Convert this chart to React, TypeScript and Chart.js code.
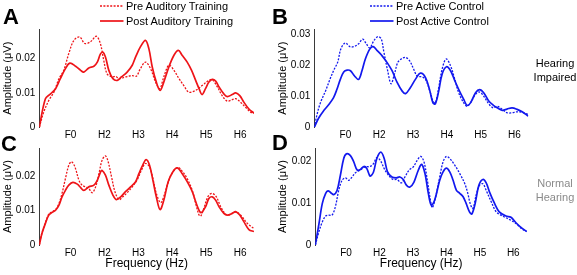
import React, { useEffect, useRef } from "react";
import { Chart, registerables } from "chart.js";

Chart.register(...registerables);

type Pt = [number, number];

// ---- tick labels ----
const xTickValues = [100, 200, 300, 400, 500, 600];
const xTickLabels = ["F0", "H2", "H3", "H4", "H5", "H6"];
const yTicksA = [0, 0.01, 0.02];
const yTicksB = [0, 0.01, 0.02, 0.03];
const yTicksC = [0, 0.01, 0.02];
const yTicksD = [0, 0.01, 0.02];
const yTickText: Record<string, string> = { "0": "0", "0.01": "0.01", "0.02": "0.02", "0.03": "0.03" };

// ---- series (frequency Hz, amplitude µV) ----
const preAuditoryHI: Pt[] = [[8,0],[21,0.0044],[36,0.0078],[51,0.0102],[66,0.0141],[80,0.0165],[95,0.0214],[110,0.0252],[127,0.0262],[142,0.0243],[159,0.0248],[176,0.0264],[188,0.0243],[198,0.0194],[208,0.0155],[223,0.0146],[233,0.0148],[243,0.0141],[262,0.0146],[282,0.015],[294,0.0148],[306,0.017],[321,0.0189],[336,0.017],[351,0.0131],[363,0.0112],[375,0.0146],[390,0.018],[405,0.0165],[420,0.0141],[434,0.0121],[449,0.0102],[469,0.0107],[488,0.0121],[508,0.0136],[518,0.0138],[533,0.0117],[547,0.0092],[562,0.0076],[577,0.008],[587,0.0083],[601,0.0073],[616,0.0058],[631,0.0044],[641,0.0041]];
const postAuditoryHI: Pt[] = [[8,0],[26,0.0083],[41,0.0097],[56,0.0112],[70,0.0141],[85,0.017],[98,0.0186],[115,0.0177],[130,0.0165],[139,0.016],[154,0.0172],[169,0.0177],[179,0.0189],[188,0.0212],[195,0.0218],[203,0.0204],[213,0.0165],[225,0.0141],[238,0.0136],[250,0.0146],[267,0.016],[282,0.018],[292,0.0204],[306,0.0233],[321,0.0252],[331,0.0228],[341,0.0175],[353,0.0131],[364,0.0107],[375,0.0131],[390,0.0175],[405,0.0209],[418,0.0223],[429,0.0209],[444,0.0189],[457,0.0165],[469,0.0136],[479,0.0112],[488,0.0095],[498,0.0112],[508,0.0131],[518,0.0139],[528,0.0134],[538,0.0117],[552,0.0097],[562,0.0089],[577,0.0095],[587,0.01],[599,0.0092],[611,0.0073],[626,0.0053],[641,0.0041]];

const preActiveHI: Pt[] = [[8,0],[16,0.0041],[26,0.0079],[41,0.0117],[56,0.016],[67,0.0188],[77,0.021],[87,0.0255],[100,0.0273],[113,0.0261],[125,0.0261],[139,0.027],[151,0.0285],[162,0.027],[172,0.0257],[184,0.028],[196,0.0293],[206,0.0286],[213,0.0248],[225,0.0183],[235,0.0141],[245,0.0172],[255,0.021],[268,0.0223],[278,0.0226],[290,0.0215],[302,0.0188],[312,0.0166],[327,0.0163],[337,0.0155],[350,0.0117],[359,0.0085],[366,0.0079],[376,0.0128],[386,0.0188],[398,0.0221],[411,0.0199],[422,0.0161],[435,0.0112],[450,0.0079],[460,0.0068],[470,0.0079],[485,0.0107],[497,0.0114],[509,0.0101],[524,0.0076],[537,0.0063],[549,0.0068],[564,0.0058],[578,0.0047],[593,0.0047],[608,0.005],[628,0.0047],[641,0.0041]];
const postActiveHI: Pt[] = [[8,0],[21,0.003],[36,0.0054],[51,0.0074],[65,0.0096],[75,0.0123],[85,0.0155],[95,0.0179],[105,0.0185],[115,0.0183],[127,0.0166],[139,0.0155],[149,0.0183],[159,0.0221],[172,0.0253],[182,0.0261],[194,0.0248],[208,0.0232],[223,0.021],[238,0.0183],[253,0.0145],[268,0.0117],[278,0.0109],[292,0.0128],[307,0.0155],[322,0.0175],[337,0.0161],[350,0.0117],[359,0.0079],[366,0.0076],[376,0.0117],[386,0.0172],[399,0.0196],[411,0.0183],[422,0.0155],[435,0.0123],[450,0.009],[460,0.0071],[470,0.0079],[485,0.0112],[497,0.0122],[509,0.0112],[524,0.0085],[537,0.0072],[549,0.0063],[564,0.0055],[578,0.0059],[593,0.0063],[608,0.0058],[623,0.005],[641,0.0036]];

const preAuditoryNH: Pt[] = [[8,0],[16,0.0036],[26,0.0065],[36,0.009],[46,0.0097],[56,0.0103],[66,0.0121],[75,0.015],[85,0.0193],[95,0.0232],[103,0.0242],[113,0.0227],[125,0.0188],[134,0.0174],[144,0.0169],[154,0.0164],[164,0.0152],[174,0.0169],[184,0.0208],[193,0.0246],[203,0.0259],[211,0.0242],[221,0.0198],[231,0.0155],[243,0.0132],[254,0.014],[267,0.0152],[282,0.0169],[297,0.019],[309,0.0217],[321,0.0237],[333,0.0227],[343,0.0193],[353,0.015],[366,0.0123],[378,0.015],[390,0.0188],[405,0.0217],[418,0.0225],[429,0.0215],[444,0.0193],[459,0.0159],[469,0.0121],[479,0.0087],[484,0.0084],[493,0.0106],[506,0.0142],[518,0.015],[530,0.014],[543,0.0111],[557,0.009],[567,0.0087],[582,0.0095],[592,0.0095],[606,0.0082],[621,0.0063],[641,0.0048]];
const postAuditoryNH: Pt[] = [[8,0],[16,0.0034],[26,0.0063],[36,0.0087],[46,0.0095],[56,0.0101],[66,0.0116],[75,0.014],[85,0.0159],[95,0.0174],[107,0.0182],[120,0.0177],[130,0.0167],[139,0.0159],[154,0.0169],[169,0.0174],[179,0.0188],[189,0.0213],[193,0.0217],[203,0.0203],[213,0.0174],[225,0.0145],[235,0.0132],[248,0.014],[262,0.0155],[277,0.0169],[292,0.0184],[302,0.0208],[313,0.0232],[323,0.0248],[333,0.0232],[343,0.0188],[353,0.014],[364,0.0103],[375,0.013],[388,0.0184],[402,0.0213],[415,0.0224],[429,0.0208],[444,0.0184],[459,0.0155],[469,0.0126],[479,0.0101],[485,0.0094],[498,0.0111],[508,0.0135],[518,0.014],[528,0.013],[538,0.0111],[552,0.0092],[562,0.0087],[577,0.0092],[587,0.0097],[599,0.0087],[611,0.0068],[626,0.0045],[641,0.0039]];

const preActiveNH: Pt[] = [[8,0],[19,0.0032],[29,0.0055],[39,0.0069],[49,0.0071],[58,0.0071],[68,0.0091],[78,0.013],[88,0.0154],[98,0.016],[108,0.0154],[118,0.0162],[128,0.0172],[143,0.0179],[157,0.0186],[172,0.0187],[182,0.0194],[192,0.0208],[202,0.0202],[214,0.0182],[227,0.0166],[240,0.0156],[252,0.0156],[266,0.0148],[276,0.0162],[289,0.0179],[301,0.0186],[313,0.0202],[323,0.0211],[333,0.0198],[343,0.0154],[353,0.0103],[358,0.0089],[368,0.0115],[380,0.0162],[390,0.0198],[400,0.0211],[410,0.0206],[425,0.019],[440,0.017],[455,0.0146],[464,0.0123],[471,0.0099],[479,0.0087],[489,0.0119],[499,0.0142],[509,0.0146],[519,0.013],[534,0.0103],[549,0.0079],[568,0.0069],[588,0.0061],[608,0.0051],[623,0.004],[640,0.0032]];
const postActiveNH: Pt[] = [[8,0],[19,0.0051],[29,0.0099],[39,0.0123],[46,0.0129],[55,0.0124],[63,0.012],[73,0.013],[83,0.0166],[93,0.0206],[101,0.0217],[113,0.0213],[123,0.0198],[133,0.0179],[143,0.018],[153,0.0187],[162,0.0182],[172,0.0164],[182,0.0174],[192,0.0206],[204,0.0221],[214,0.0206],[224,0.0174],[237,0.0162],[250,0.016],[261,0.0162],[271,0.0156],[281,0.0142],[291,0.0138],[303,0.015],[316,0.0178],[326,0.0192],[336,0.017],[346,0.0123],[355,0.0095],[365,0.0107],[380,0.0154],[390,0.0174],[400,0.0183],[410,0.0174],[420,0.0154],[430,0.013],[440,0.0123],[450,0.0115],[459,0.0099],[469,0.0079],[476,0.0074],[486,0.0099],[497,0.0142],[509,0.0156],[519,0.0148],[529,0.0126],[544,0.0099],[558,0.0079],[578,0.0069],[593,0.0066],[608,0.0053],[623,0.0042],[640,0.0032]];

const legendAuditory = ["Pre Auditory Training", "Post Auditory Training"];
const legendActive = ["Pre Active Control", "Post Active Control"];

const FONT = "'Liberation Sans', Arial, Helvetica, sans-serif";
const RED = "rgb(238,20,24)";
const BLUE = "rgb(18,24,238)";

interface PanelProps {
  left: number; top: number; width: number; height: number;
  pad: { left: number; right: number; top: number; bottom: number };
  yWidth: number; xHeight: number; yMax: number; yTicks: number[];
  xTitle: boolean; pre: Pt[]; post: Pt[]; color: string;
}

function Panel(p: PanelProps) {
  const ref = useRef<HTMLCanvasElement | null>(null);
  useEffect(() => {
    const chart = new Chart(ref.current as HTMLCanvasElement, {
      type: "line",
      data: {
        datasets: [
          { label: "pre", data: p.pre.map(([x, y]) => ({ x, y })), borderColor: p.color, borderWidth: 1.3, borderDash: [2, 1.4], pointRadius: 0, tension: 0.35, fill: false },
          { label: "post", data: p.post.map(([x, y]) => ({ x, y })), borderColor: p.color, borderWidth: 1.7, pointRadius: 0, tension: 0.35, fill: false },
        ],
      },
      options: {
        animation: false,
        responsive: false,
        events: [],
        layout: { padding: p.pad },
        plugins: { legend: { display: false }, tooltip: { enabled: false }, title: { display: false } },
        scales: {
          x: {
            type: "linear", min: 8, max: 641,
            afterBuildTicks: (s: any) => { s.ticks = xTickValues.map((v) => ({ value: v })); },
            afterFit: (s: any) => { s.height = p.xHeight; },
            grid: { display: false, drawTicks: false },
            border: { display: false },
            ticks: {
              padding: 2, color: "#000", maxRotation: 0, autoSkip: false,
              font: { family: FONT, size: 10 },
              callback: (v: any) => { const i = xTickValues.indexOf(Number(v)); return i >= 0 ? xTickLabels[i] : ""; },
            },
            title: { display: p.xTitle, text: "Frequency (Hz)", color: "#000", font: { family: FONT, size: 12 }, padding: { top: 0, bottom: 0 } },
          },
          y: {
            type: "linear", min: 0, max: p.yMax,
            afterBuildTicks: (s: any) => { s.ticks = p.yTicks.map((v) => ({ value: v })); },
            afterFit: (s: any) => { s.width = p.yWidth; },
            grid: { display: false, drawTicks: false },
            border: { display: true, color: "#3a3a3a", width: 1 },
            ticks: {
              padding: 4, color: "#000", font: { family: FONT, size: 10 },
              callback: (v: any) => yTickText[String(Number(v))] ?? String(v),
            },
            title: { display: true, text: "Amplitude (μV)", color: "#000", font: { family: FONT, size: 11 }, padding: { top: 1, bottom: 0 } },
          },
        },
      } as any,
    });
    return () => chart.destroy();
  }, []);
  return (
    <canvas
      ref={ref}
      width={p.width}
      height={p.height}
      style={{ position: "absolute", left: p.left, top: p.top, width: p.width, height: p.height }}
    />
  );
}

function Legend({ left, labels, color }: { left: number; labels: string[]; color: string }) {
  const rows = [6, 20.7];
  return (
    <>
      {labels.map((t, i) => (
        <div key={t} style={{ position: "absolute", left, top: rows[i] - 7, height: 14, lineHeight: "14px", fontFamily: FONT, fontSize: 11, color: "#000", whiteSpace: "nowrap" }}>
          <svg width={24} height={14} style={{ position: "absolute", left: 0, top: 0 }}>
            <line x1={0} y1={7} x2={23.5} y2={7} stroke={color} strokeWidth={i === 0 ? 1.3 : 1.7} strokeDasharray={i === 0 ? "2 1.4" : undefined} />
          </svg>
          <span style={{ position: "absolute", left: 26, top: 0 }}>{t}</span>
        </div>
      ))}
    </>
  );
}

const letterStyle: React.CSSProperties = { position: "absolute", fontFamily: FONT, fontWeight: "bold", fontSize: 22, lineHeight: "22px", color: "#000" };
const sideStyle: React.CSSProperties = { position: "absolute", left: 525, width: 60, textAlign: "center", fontFamily: FONT, fontSize: 11, lineHeight: "14px" };

export default function App() {
  useEffect(() => { document.body.style.margin = "0"; }, []);
  return (
    <div style={{ position: "fixed", left: 0, top: 0, width: 577, height: 275, background: "#fff", overflow: "hidden" }}>
      <Panel left={0} top={0} width={262} height={142} pad={{ left: 0, right: 8, top: 29, bottom: 0.7 }} yWidth={39.3} xHeight={14} yMax={0.0285} yTicks={yTicksA} xTitle={false} pre={preAuditoryHI} post={postAuditoryHI} color={RED} />
      <Panel left={275} top={0} width={262} height={142} pad={{ left: 0, right: 8.7, top: 29, bottom: 0.7 }} yWidth={39.3} xHeight={14} yMax={0.0318} yTicks={yTicksB} xTitle={false} pre={preActiveHI} post={postActiveHI} color={BLUE} />
      <Panel left={0} top={130} width={262} height={145} pad={{ left: 0, right: 8, top: 18, bottom: 4.5 }} yWidth={39.3} xHeight={25.5} yMax={0.0282} yTicks={yTicksC} xTitle={true} pre={preAuditoryNH} post={postAuditoryNH} color={RED} />
      <Panel left={275} top={130} width={262} height={145} pad={{ left: 0, right: 10, top: 18, bottom: 4.5 }} yWidth={40.3} xHeight={25.5} yMax={0.0231} yTicks={yTicksD} xTitle={true} pre={preActiveNH} post={postActiveNH} color={BLUE} />

      <Legend left={100} labels={legendAuditory} color={RED} />
      <Legend left={370} labels={legendActive} color={BLUE} />

      <div style={{ ...letterStyle, left: 3, top: 6.4 }}>A</div>
      <div style={{ ...letterStyle, left: 272, top: 6.4 }}>B</div>
      <div style={{ ...letterStyle, left: 1, top: 133 }}>C</div>
      <div style={{ ...letterStyle, left: 272, top: 132 }}>D</div>

      <div style={{ ...sideStyle, top: 56.3, color: "#000" }}>Hearing<br />Impaired</div>
      <div style={{ ...sideStyle, top: 175.7, color: "#8a8a8a" }}>Normal<br />Hearing</div>
    </div>
  );
}
